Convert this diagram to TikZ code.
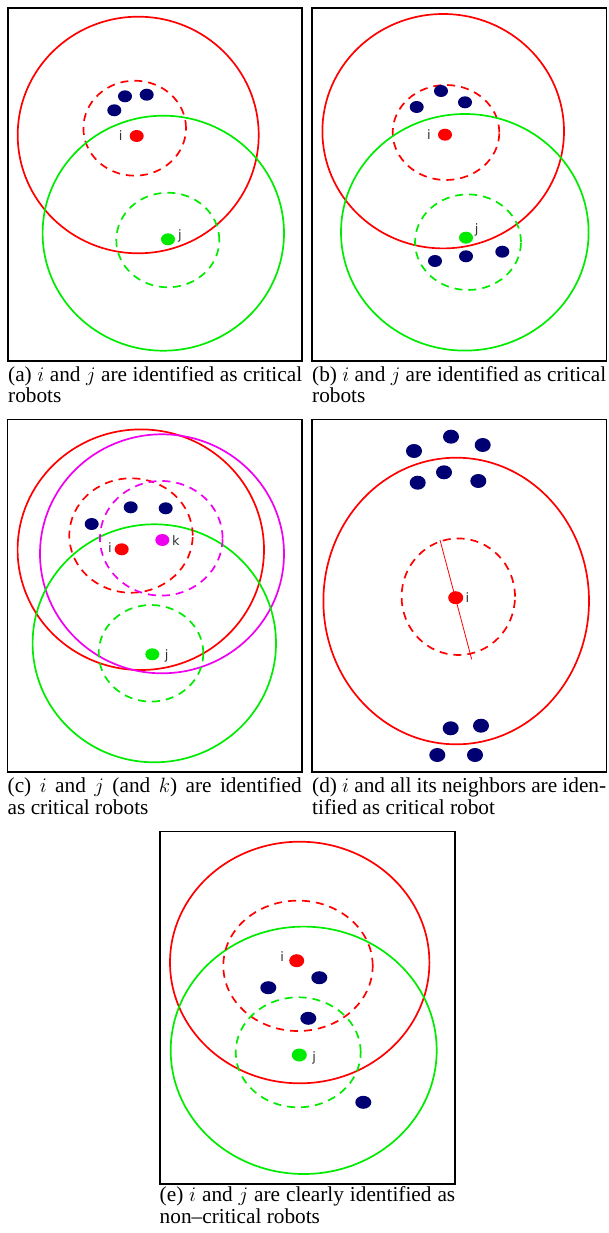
\documentclass[tikz,border=0pt]{standalone}
\usepackage{fontspec}
\setmainfont{Liberation Serif}
\newfontfamily\lblfont{DejaVu Sans}
\usetikzlibrary{shapes.geometric}
\definecolor{cred}{RGB}{255,0,0}
\definecolor{cgreen}{RGB}{0,235,0}
\definecolor{cmag}{RGB}{240,0,240}
\definecolor{cnavy}{RGB}{0,0,115}
\tikzset{
  frame/.style={draw=black, line width=1.5pt},
  ring/.style={line width=1.7pt},
  dring/.style={line width=1.7pt, dash pattern=on 8pt off 6pt},
  robot/.style={ellipse, inner sep=0pt, minimum width=14pt, minimum height=12pt, draw=none},
  bigrobot/.style={robot, minimum width=16pt, minimum height=14pt},
  nb/.style={robot, fill=cnavy},
  bnb/.style={bigrobot, fill=cnavy},
  lbl/.style={inner sep=0pt, font=\lblfont\fontsize{13}{13}\selectfont, text=black!80},
  capl/.style={inner sep=0pt, anchor=base west, font=\fontsize{21.3}{22}\selectfont},
}
\newcommand{\fullline}[1]{\makebox[294pt][s]{#1}}
\begin{document}
\begin{tikzpicture}[x=1pt,y=-1pt]
\useasboundingbox (0,0) rectangle (608,1233);

% ---------------- (a)
\draw[frame] (8,8) rectangle (302,361);
\draw[ring, cred] (138.2,135) ellipse [x radius=120.5pt, y radius=118.3pt];
\draw[dring, cred] (134.7,128.2) ellipse [x radius=51.3pt, y radius=47.5pt];
\draw[ring, cgreen] (163.3,233.2) ellipse [x radius=120.7pt, y radius=117.5pt];
\draw[dring, cgreen] (167.8,240) ellipse [x radius=51.5pt, y radius=47.3pt];
\node[robot, fill=cred] (ai) at (136.7,136) {};
\node[lbl] (ail) at (120.7,136) {i};
\node[nb] (ab1) at (114.3,110.3) {};
\node[nb] (ab2) at (125,96.3) {};
\node[nb] (ab3) at (146.7,94.7) {};
\node[robot, fill=cgreen] (aj) at (168,239.3) {};
\node[lbl] (ajl) at (180,236) {j};
\node[capl] (acap1) at (8,381) {\fullline{(a) $i$ and $j$ are identified as critical}};
\node[capl] (acap2) at (8,402.5) {robots};

% ---------------- (b)
\draw[frame] (312,8) rectangle (606.5,361);
\draw[ring, cred] (443.2,131.2) ellipse [x radius=120.8pt, y radius=117.2pt];
\draw[dring, cred] (446,132.5) ellipse [x radius=53.3pt, y radius=47.5pt];
\draw[ring, cgreen] (464.8,232.3) ellipse [x radius=123.8pt, y radius=118.3pt];
\draw[dring, cgreen] (468,242.2) ellipse [x radius=53pt, y radius=47.8pt];
\node[robot, fill=cred] (bi) at (445,134.7) {};
\node[lbl] (bil) at (429,134.7) {i};
\node[nb] (bb1) at (416.7,107) {};
\node[nb] (bb2) at (441,91) {};
\node[nb] (bb3) at (465,102.3) {};
\node[nb] (bb4) at (435,261) {};
\node[nb] (bb5) at (466,256.3) {};
\node[nb] (bb6) at (502.3,251.7) {};
\node[robot, fill=cgreen] (bj) at (466,237.7) {};
\node[lbl] (bjl) at (476.7,230) {j};
\node[capl] (bcap1) at (312,381) {\fullline{(b) $i$ and $j$ are identified as critical}};
\node[capl] (bcap2) at (312,402.5) {robots};

% ---------------- (c)
\draw[frame] (7.5,419.5) rectangle (302,772);
\draw[ring, cred] (140.8,549.7) ellipse [x radius=123.2pt, y radius=120.3pt];
\draw[ring, cmag] (162,553.8) ellipse [x radius=122pt, y radius=119.5pt];
\draw[ring, cgreen] (154.3,643.3) ellipse [x radius=121.7pt, y radius=119pt];
\draw[dring, cred] (131,535.5) ellipse [x radius=61.7pt, y radius=57.2pt];
\draw[dring, cmag] (161.3,538.3) ellipse [x radius=61.3pt, y radius=57.3pt];
\draw[dring, cgreen] (151,653.3) ellipse [x radius=52.3pt, y radius=48.3pt];
\node[robot, fill=cred] (ci) at (121.7,549.3) {};
\node[lbl] (cil) at (110,547.3) {i};
\node[robot, fill=cmag] (ck) at (162.3,540) {};
\node[lbl] (ckl) at (176,540.7) {k};
\node[nb] (cb1) at (91.7,524) {};
\node[nb] (cb2) at (130.7,507.3) {};
\node[nb] (cb3) at (165.7,508.3) {};
\node[robot, fill=cgreen] (cj) at (152.3,654.3) {};
\node[lbl] (cjl) at (166.7,656) {j};
\node[capl] (ccap1) at (7.5,792.3) {\fullline{(c) $i$ and $j$ (and $k$) are identified}};
\node[capl] (ccap2) at (7.5,814) {as critical robots};

% ---------------- (d)
\draw[frame] (312,419.5) rectangle (606.5,772);
\draw[ring, cred] (456.2,601) ellipse [x radius=132.8pt, y radius=143.3pt];
\draw[dring, cred] (458.3,596.7) ellipse [x radius=56.7pt, y radius=58.3pt];
\coordinate (dl1) at (440,540);
\coordinate (dl2) at (471.7,659.3);
\draw[cred, line width=0.8pt] (dl1) -- (dl2);
\node[robot, minimum width=15pt, minimum height=13pt, fill=cred] (di) at (455.7,597.7) {};
\node[lbl] (dil) at (467.3,597.7) {i};
\node[bnb] (db1) at (414,451) {};
\node[bnb] (db2) at (451,436.7) {};
\node[bnb] (db3) at (482.7,445) {};
\node[bnb] (db4) at (417.7,482.7) {};
\node[bnb] (db5) at (444,472.3) {};
\node[bnb] (db6) at (478.3,481) {};
\node[bnb] (db7) at (450.7,728.3) {};
\node[bnb] (db8) at (481,725.7) {};
\node[bnb] (db9) at (437.3,755) {};
\node[bnb] (db10) at (475,755) {};
\node[capl] (dcap1) at (312,792.3) {\fullline{(d) $i$ and all its neighbors are iden-}};
\node[capl] (dcap2) at (312,814) {tified as critical robot};

% ---------------- (e)
\draw[frame] (160,831.7) rectangle (455,1184);
\draw[ring, cred] (299.7,962.5) ellipse [x radius=129.7pt, y radius=120.8pt];
\draw[ring, cgreen] (303.7,1050.3) ellipse [x radius=133pt, y radius=123.7pt];
\draw[dring, cred] (298,965.8) ellipse [x radius=74.7pt, y radius=65.2pt];
\draw[dring, cgreen] (298.2,1052.3) ellipse [x radius=62.5pt, y radius=55pt];
\node[robot, minimum width=15pt, minimum height=13pt, fill=cred] (ei) at (296.7,960.7) {};
\node[lbl] (eil) at (282.3,956.7) {i};
\node[bnb, minimum height=13pt] (eb1) at (319.3,977.7) {};
\node[bnb, minimum height=13pt] (eb2) at (268.3,987.7) {};
\node[bnb, minimum height=13pt] (eb3) at (308.3,1018.3) {};
\node[bnb, minimum height=13pt] (eb4) at (363.3,1102.3) {};
\node[robot, minimum width=15pt, minimum height=13pt, fill=cgreen] (ej) at (299.3,1055) {};
\node[lbl] (ejl) at (314.3,1058.3) {j};
\node[capl] (ecap1) at (159.5,1201.5) {\makebox[295.5pt][s]{(e) $i$ and $j$ are clearly identified as}};
\node[capl] (ecap2) at (159.5,1223.5) {non--critical robots};
\end{tikzpicture}
\end{document}
